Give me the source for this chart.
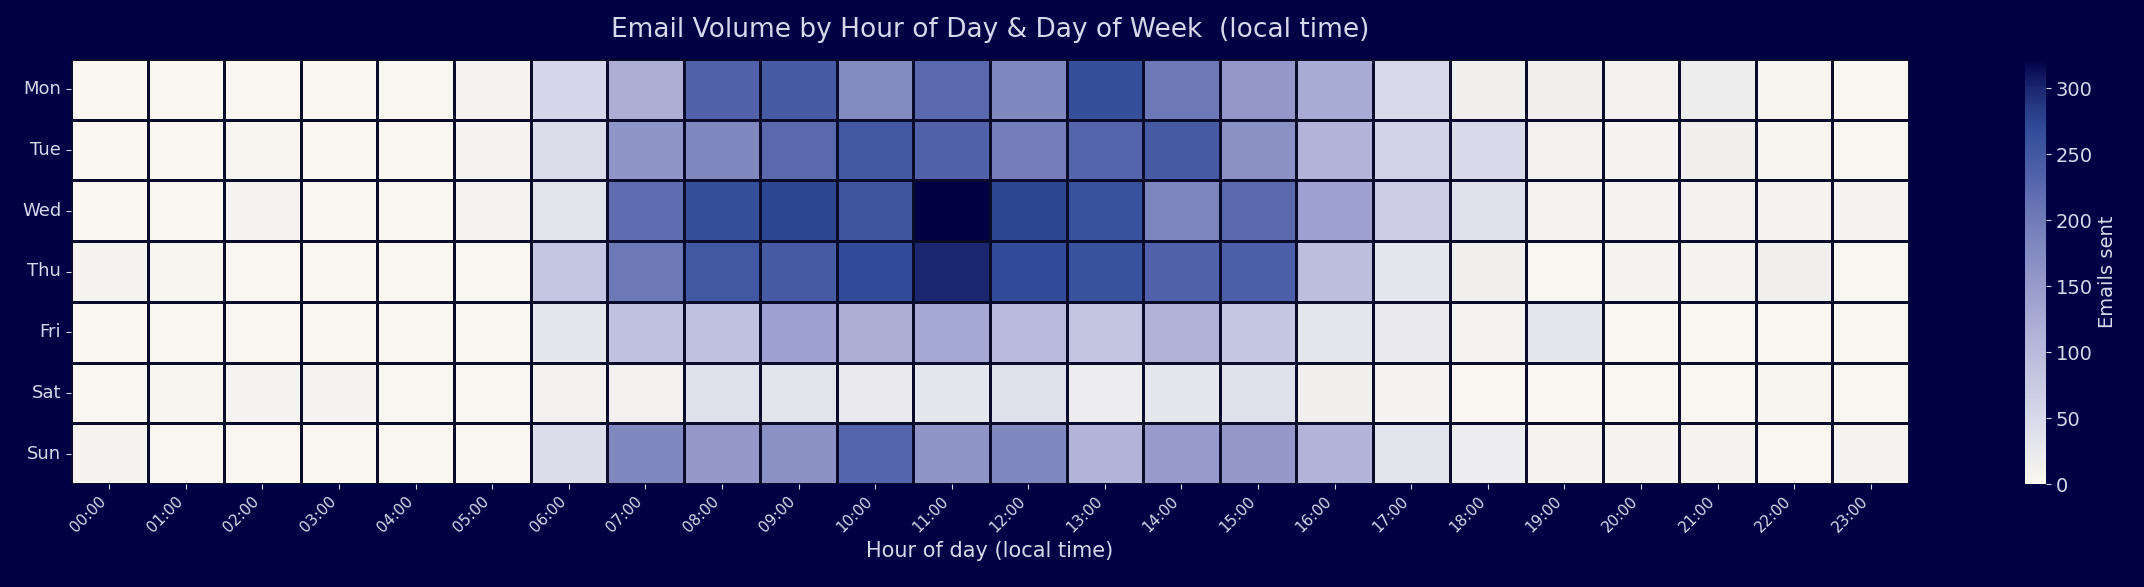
import numpy as np, pandas as pd, seaborn as sns, matplotlib
matplotlib.use("Agg")
import matplotlib.pyplot as plt
from matplotlib.colors import LinearSegmentedColormap

days = ["Mon","Tue","Wed","Thu","Fri","Sat","Sun"]
hours = [f"{h:02d}:00" for h in range(24)]
mon = [2,2,2,2,3,8,55,120,235,245,175,225,180,265,205,155,125,50,15,15,12,18,6,5]
tue = [2,2,6,2,2,8,45,160,180,225,250,235,195,230,245,165,110,60,50,12,8,15,6,5]
wed = [2,2,8,2,2,8,35,220,265,275,255,322,275,260,185,225,140,70,40,10,8,12,8,8]
thu = [8,6,2,2,2,3,80,205,250,245,270,300,270,260,235,240,95,30,15,5,8,8,15,5]
fri = [2,3,2,2,2,3,30,90,90,140,120,130,100,85,115,80,30,25,10,30,5,5,5,3]
sat = [3,6,8,10,3,3,12,12,40,35,25,30,40,20,30,40,15,8,2,2,3,5,6,3]
sun = [8,3,2,2,2,3,45,180,155,165,230,160,180,110,150,155,110,35,20,8,8,8,5,10]

df = pd.DataFrame([mon,tue,wed,thu,fri,sat,sun], index=days, columns=hours)
BG = "#000044"
FG = "#d8d8ec"
vmax = 322
stops = [(0,"#faf8f0"),(50,"#d8d9ea"),(120,"#acaed6"),(190,"#7a82bc"),(240,"#4c5ea8"),(270,"#304c98"),(300,"#1c2872"),(322,"#000045")]
cmap = LinearSegmentedColormap.from_list("c", [(v/vmax,c) for v,c in stops])

W, H = 2144, 587
L, R, T, B = 71, 1909, 59, 484
fig = plt.figure(figsize=(21.44,5.87), dpi=100, facecolor=BG)
ax = fig.add_axes([L/W, 1-B/H, (R-L)/W, (B-T)/H])
cax = fig.add_axes([2025/W, 1-B/H, 21/W, (B-T)/H])
sns.heatmap(df, ax=ax, cbar_ax=cax, cmap=cmap, vmin=0, vmax=vmax, linewidths=0.9, linecolor="#0a0a2a",
            cbar_kws={"label":"Emails sent"})
ax.set_facecolor(BG)
ax.set_xlabel("Hour of day (local time)", color=FG, fontsize=15)
ax.set_ylabel("")
ax.set_xticklabels(hours, rotation=45, ha="right", fontsize=11, color=FG)
ax.set_yticklabels(days, rotation=0, fontsize=13, color=FG)
ax.tick_params(colors=FG)
ax.set_title("Email Volume by Hour of Day & Day of Week  (local time)", color=FG, fontsize=19, pad=16)
cax.tick_params(colors=FG, labelsize=14)
cax.yaxis.label.set_color(FG); cax.yaxis.label.set_size(14)
cax.set_yticks([0,50,100,150,200,250,300])
for s in cax.spines.values(): s.set_visible(False)
fig.savefig("out.png", facecolor=BG)
